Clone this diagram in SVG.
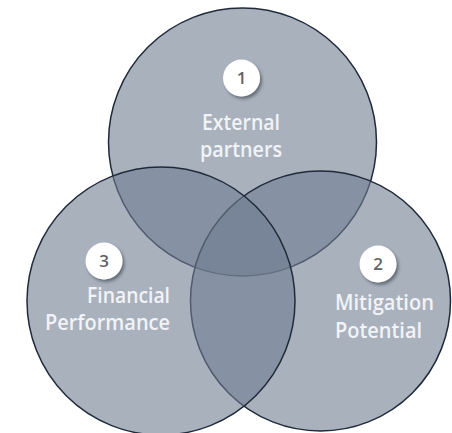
<svg xmlns="http://www.w3.org/2000/svg" width="452" height="433" viewBox="0 0 452 433">
  <defs>
    <filter id="badgeShadow" x="-50%" y="-50%" width="200%" height="200%">
      <feDropShadow dx="2" dy="2.5" stdDeviation="1.8" flood-color="#1e2630" flood-opacity="0.5"/>
    </filter>
  </defs>
  <style>
    .set { fill: #707d91; fill-opacity: 0.6; stroke: #1f2a3a; stroke-width: 1.5; }
    .badge { fill: #ffffff; filter: url(#badgeShadow); }
    .num { font-family: "Open Sans", "Liberation Sans", sans-serif; font-size: 17px; font-weight: 600; fill: #626262; text-anchor: middle; }
    .label { font-family: "Open Sans", "Liberation Sans", sans-serif; font-size: 21px; font-weight: 600; fill: #f1f3f6; }
  </style>
  <rect width="452" height="433" fill="#ffffff"/>

  <!-- three overlapping sets -->
  <g id="set-external-partners">
    <circle class="set" cx="242.5" cy="142" r="134"/>
  </g>
  <g id="set-mitigation-potential">
    <circle class="set" cx="320.5" cy="301" r="130"/>
  </g>
  <g id="set-financial-performance">
    <circle class="set" cx="161" cy="301" r="134"/>
  </g>

  <!-- labels and number badges -->
  <g id="label-1">
    <circle class="badge" cx="241.5" cy="78" r="18.5"/>
    <text class="num" x="241.5" y="84">1</text>
    <text class="label" x="241" y="130" text-anchor="middle" textLength="78" lengthAdjust="spacingAndGlyphs">External</text>
    <text class="label" x="241" y="157" text-anchor="middle" textLength="82" lengthAdjust="spacingAndGlyphs">partners</text>
  </g>
  <g id="label-2">
    <circle class="badge" cx="378" cy="264" r="18.5"/>
    <text class="num" x="378" y="270">2</text>
    <text class="label" x="335" y="310" textLength="99" lengthAdjust="spacingAndGlyphs">Mitigation</text>
    <text class="label" x="335" y="338" textLength="87" lengthAdjust="spacingAndGlyphs">Potential</text>
  </g>
  <g id="label-3">
    <circle class="badge" cx="104" cy="261" r="18.5"/>
    <text class="num" x="104" y="267">3</text>
    <text class="label" x="170" y="303" text-anchor="end" textLength="83" lengthAdjust="spacingAndGlyphs">Financial</text>
    <text class="label" x="170" y="330" text-anchor="end" textLength="125" lengthAdjust="spacingAndGlyphs">Performance</text>
  </g>
</svg>
